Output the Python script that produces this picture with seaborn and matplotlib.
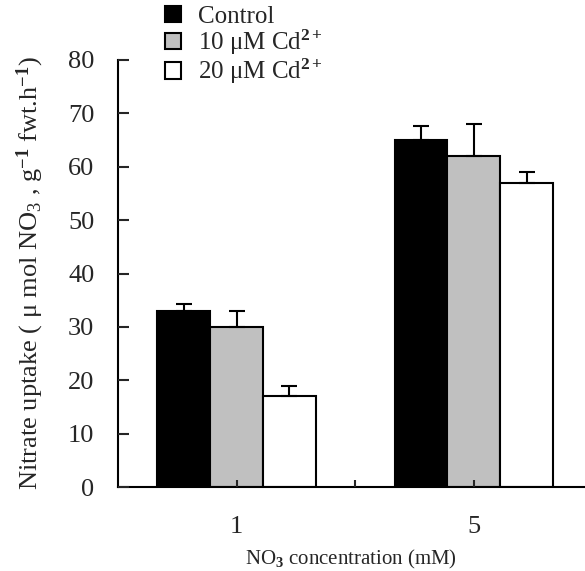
import pandas as pd
import matplotlib.pyplot as plt
import seaborn as sns

# Values
concentrations = ['1', '5']
treatments = ['Control', '10 μM Cd$^{\\mathbf{2+}}$', '20 μM Cd$^{\\mathbf{2+}}$']
uptake = {
    'Control': [33, 65],
    '10 uM': [30, 62],
    '20 uM': [17, 57],
}
errors = {
    'Control': [1.3, 2.6],
    '10 uM': [3.0, 6.0],
    '20 uM': [2.0, 2.0],
}
keys = ['Control', '10 uM', '20 uM']
colors = ['black', '#c0c0c0', 'white']

rows = []
for k, lab in zip(keys, treatments):
    for c, v in zip(concentrations, uptake[k]):
        rows.append({'conc': c, 'treatment': lab, 'value': v})
df = pd.DataFrame(rows)

sns.set_style('white')
plt.rcParams['font.family'] = ['Liberation Serif', 'DejaVu Serif']
plt.rcParams['mathtext.fontset'] = 'custom'
plt.rcParams['mathtext.rm'] = 'Liberation Serif'
plt.rcParams['mathtext.it'] = 'Liberation Serif:italic'
plt.rcParams['mathtext.bf'] = 'Liberation Serif:bold'

fig = plt.figure(figsize=(5.85, 5.71), dpi=100)
ax = fig.add_axes([0.2017, 0.147, 0.797, 0.748])

sns.barplot(data=df, x='conc', y='value', hue='treatment', hue_order=treatments,
            order=concentrations, palette=colors, edgecolor='black', linewidth=1.5,
            width=0.668, errorbar=None, saturation=1, ax=ax)

for k, cont in zip(keys, ax.containers):
    for bar, err in zip(cont, errors[k]):
        xc = bar.get_x() + bar.get_width() / 2
        top = bar.get_height()
        ax.errorbar(xc, top, yerr=[[0], [err]], fmt='none', ecolor='black',
                    elinewidth=1.5, capsize=6, capthick=1.5, zorder=1)

ax.set_axisbelow(False)
ax.set_xlim(-0.5, 1.466)
ax.set_ylim(0, 80)
ax.set_yticks(range(0, 81, 10))
ax.set_xticks([0, 0.5, 1])
ax.set_xticklabels(['1', '', '5'])
ax.tick_params(axis='y', left=True, direction='in', length=8, width=1.5, labelsize=19, pad=17)
ax.tick_params(axis='x', bottom=True, direction='in', length=5, width=1.5, labelsize=19, pad=21)
for s in ['top', 'right']:
    ax.spines[s].set_visible(False)
for s in ['left', 'bottom']:
    ax.spines[s].set_linewidth(1.5)
    ax.spines[s].set_color('black')

ax.set_xlabel('NO$_{\\mathbf{3}}$ concentration (mM)', fontsize=15)
ax.xaxis.set_label_coords(0.5, -0.143)
ax.set_ylabel('Nitrate uptake ( μ mol NO$_3$ , g$^{\\mathbf{-1}}$ fwt.h$^{\\mathbf{-1}}$)',
              fontsize=19)
ax.yaxis.set_label_coords(-0.155, 0.5)

ax.legend(loc='upper left', bbox_to_anchor=(0.282, 0.99), bbox_transform=fig.transFigure,
          frameon=False, fontsize=18, handlelength=0.63, handleheight=0.63,
          handletextpad=0.68, labelspacing=0.0, borderaxespad=0, borderpad=0)

fig.savefig('out.png', dpi=100)
